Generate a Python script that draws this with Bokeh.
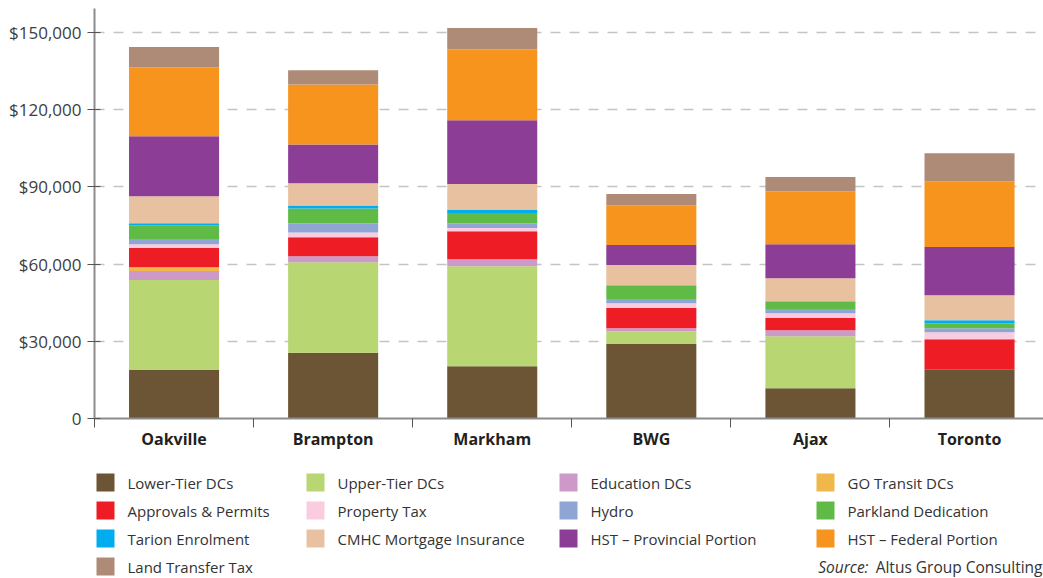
from bokeh.plotting import figure
from bokeh.layouts import column
from bokeh.models import ColumnDataSource, FixedTicker, Label, Range1d
from bokeh.core.properties import value
from bokeh.embed import file_html
from bokeh.resources import INLINE

categories = ["Oakville", "Brampton", "Markham", "BWG", "Ajax", "Toronto"]

series_names = [
    "Lower-Tier DCs", "Upper-Tier DCs", "Education DCs", "GO Transit DCs",
    "Approvals & Permits", "Property Tax", "Hydro", "Parkland Dedication",
    "Tarion Enrolment", "CMHC Mortgage Insurance", "HST \u2013 Provincial Portion",
    "HST \u2013 Federal Portion", "Land Transfer Tax",
]

lower_tier_dcs = [18800, 25500, 20300, 28900, 11800, 18900]
upper_tier_dcs = [35000, 35200, 38900, 5000, 20200, 0]
education_dcs = [3500, 2300, 2700, 1200, 2300, 0]
go_transit_dcs = [1500, 0, 0, 0, 0, 0]
approvals_permits = [7400, 7400, 10900, 7800, 4700, 11900]
property_tax = [1500, 1900, 1200, 1900, 1900, 2700]
hydro = [2000, 3500, 1900, 1600, 1600, 1600]
parkland_dedication = [5400, 5800, 3900, 5400, 3100, 1900]
tarion_enrolment = [800, 1200, 1200, 0, 0, 1200]
cmhc_insurance = [10500, 8600, 10100, 7800, 8900, 9700]
hst_provincial = [23300, 15100, 24800, 7800, 13200, 18700]
hst_federal = [26800, 23300, 27600, 15500, 20600, 25600]
land_transfer_tax = [7800, 5500, 8200, 4300, 5500, 10900]

series_values = [
    lower_tier_dcs, upper_tier_dcs, education_dcs, go_transit_dcs,
    approvals_permits, property_tax, hydro, parkland_dedication,
    tarion_enrolment, cmhc_insurance, hst_provincial, hst_federal,
    land_transfer_tax,
]

colors = [
    "#6B5535", "#B8D672", "#CC99C8", "#F0B84A",
    "#EE1C25", "#F9CCE0", "#8FA6D4", "#60BB46",
    "#00AEEF", "#E8C2A0", "#8C3E96", "#F7941D",
    "#AE8B77",
]

y_ticks = [0, 30000, 60000, 90000, 120000, 150000]
y_tick_labels = ["0", "$30,000", "$60,000", "$90,000", "$120,000", "$150,000"]

source_text_italic = "Source:"
source_text = "Altus Group Consulting"

x_pos = [i + 0.5 for i in range(len(categories))]
keys = ["s%d" % i for i in range(len(series_names))]
data = {"x": x_pos}
for k, vals in zip(keys, series_values):
    data[k] = vals
source = ColumnDataSource(data)

FONT = "Open Sans"
W = 1043
LEFT = 94
H1 = 468
H2 = 578 - H1

p = figure(width=W, height=H1, output_backend="svg", toolbar_location=None,
           x_range=Range1d(0, 5.965), y_range=Range1d(0, 159300),
           min_border_left=LEFT, min_border_right=0, min_border_top=8,
           min_border_bottom=H1 - 418)
p.outline_line_color = None
p.background_fill_color = "white"

p.vbar_stack(keys, x="x", width=0.566, source=source,
             fill_color=colors, line_color=None)

# x axis
xa = p.xaxis[0]
xa.ticker = FixedTicker(ticks=x_pos, minor_ticks=list(range(0, 7)))
xa.major_label_overrides = {x: c for x, c in zip(x_pos, categories)}
xa.major_tick_out = 0
xa.major_tick_in = 0
xa.minor_tick_out = 9
xa.minor_tick_in = 0
xa.minor_tick_line_color = "#555555"
xa.axis_line_color = "#8c8c8c"
xa.axis_line_width = 2
xa.major_label_standoff = 0
xa.major_label_text_font = FONT
xa.major_label_text_font_style = "bold"
xa.major_label_text_font_size = "16px"
xa.major_label_text_color = "#231f20"

# y axis
ya = p.yaxis[0]
ya.ticker = FixedTicker(ticks=y_ticks)
ya.major_label_overrides = {t: l for t, l in zip(y_ticks, y_tick_labels)}
ya.major_tick_in = 6
ya.major_tick_out = 7
ya.major_tick_line_color = "#555555"
ya.minor_tick_line_color = None
ya.axis_line_color = "#8c8c8c"
ya.axis_line_width = 2
ya.major_label_standoff = 6
ya.major_label_text_font = FONT
ya.major_label_text_font_size = "17px"
ya.major_label_text_color = "#3d3d3d"

p.xgrid.visible = False
p.ygrid.ticker = FixedTicker(ticks=y_ticks)
p.ygrid.grid_line_color = "#c4c4c4"
p.ygrid.grid_line_width = 1.5
p.ygrid.grid_line_dash = "10 9"

# legend panel below the chart: data coordinates equal page pixels
p2 = figure(width=W, height=H2, output_backend="svg", toolbar_location=None,
            x_range=Range1d(LEFT, W), y_range=Range1d(578, H1),
            min_border_left=LEFT, min_border_right=0, min_border_top=0,
            min_border_bottom=0, x_axis_type=None, y_axis_type=None)
p2.outline_line_color = None
p2.xgrid.visible = False
p2.ygrid.visible = False

col_x = [96, 306, 559, 816]
row_y = [482, 510, 538, 566]
leg = ColumnDataSource(dict(
    sx=[col_x[i % 4] + 9 for i in range(len(series_names))],
    tx=[col_x[i % 4] + 31 for i in range(len(series_names))],
    y=[row_y[i // 4] for i in range(len(series_names))],
    name=series_names,
    color=colors,
))
p2.rect(x="sx", y="y", width=18, height=18, fill_color="color", line_color=None,
        source=leg)
p2.text(x="tx", y="y", text="name", text_baseline="middle", text_align="left",
        text_font=value(FONT), text_font_size="15px", text_color="#333333",
        source=leg)

p2.add_layout(Label(x=W - 1, y=566, text=source_text, text_align="right",
                    text_baseline="middle", text_font=FONT, text_font_size="15.5px",
                    text_color="#333333"))
p2.add_layout(Label(x=868, y=566, text=source_text_italic, text_align="right",
                    text_baseline="middle", text_font=FONT,
                    text_font_style="italic", text_font_size="15.5px",
                    text_color="#333333"))

layout = column(p, p2, spacing=0)
open("out.html", "w").write(file_html(layout, INLINE))
